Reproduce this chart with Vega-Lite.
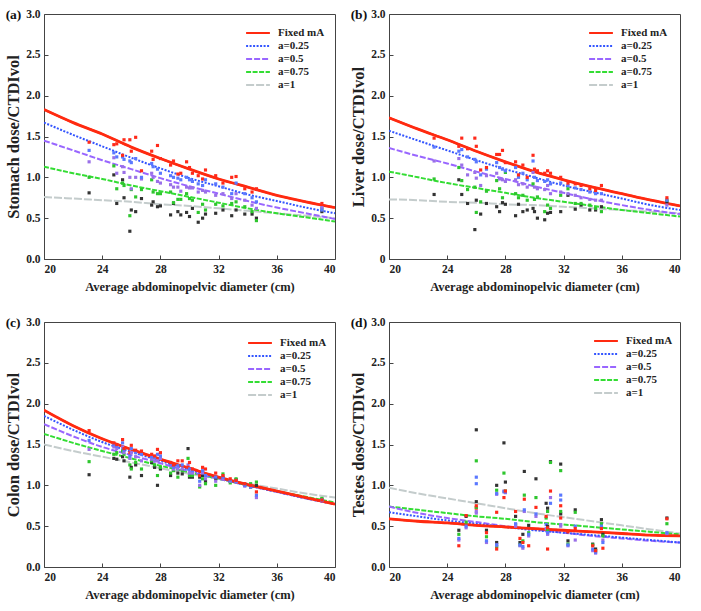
{
"$schema":"https://vega.github.io/schema/vega-lite/v6.json",
"padding":{"left":5,"top":7,"right":5,"bottom":3},
"background":"white",
"config":{
 "font":"Liberation Serif",
 "view":{"stroke":"#444","strokeWidth":1},
 "axis":{"labelFont":"Liberation Serif","labelFontWeight":"bold","labelFontSize":11.5,"labelColor":"#222","titleFont":"Liberation Serif","titleFontWeight":"bold","titleColor":"#222","grid":false,"domain":false,"ticks":true,"tickSize":-4,"tickColor":"#444"},
 "axisX":{"labelPadding":8,"titleFontSize":12.5,"titlePadding":6},
 "axisY":{"labelPadding":8,"titleFontSize":16.5,"titlePadding":4},
 "legend":{"padding":0,"symbolType":"M-1.7,0H1.7","symbolSize":196,"symbolStrokeWidth":2,"rowPadding":-4,"labelFont":"Liberation Serif","labelFontWeight":"bold","labelFontSize":11,"labelColor":"#222","labelOffset":12},
 "title":{"font":"Liberation Serif","fontSize":13.5,"fontWeight":"bold","anchor":"start","frame":"bounds","baseline":"middle","offset":-13,"color":"#111"}
},
"datasets":{
 "crv":[
  {"p":"a","x":20,"f":1.83,"q":1.67,"h":1.45,"t":1.13,"o":0.76},
  {"p":"a","x":22,"f":1.67,"q":1.52,"h":1.33,"t":1.05,"o":0.74},
  {"p":"a","x":24,"f":1.53,"q":1.38,"h":1.21,"t":0.98,"o":0.72},
  {"p":"a","x":26,"f":1.37,"q":1.24,"h":1.10,"t":0.90,"o":0.70},
  {"p":"a","x":28,"f":1.23,"q":1.11,"h":0.99,"t":0.83,"o":0.67},
  {"p":"a","x":30,"f":1.10,"q":0.99,"h":0.89,"t":0.76,"o":0.65},
  {"p":"a","x":32,"f":0.98,"q":0.89,"h":0.80,"t":0.69,"o":0.62},
  {"p":"a","x":34,"f":0.88,"q":0.79,"h":0.71,"t":0.62,"o":0.59},
  {"p":"a","x":36,"f":0.78,"q":0.71,"h":0.63,"t":0.56,"o":0.56},
  {"p":"a","x":38,"f":0.70,"q":0.63,"h":0.56,"t":0.51,"o":0.53},
  {"p":"a","x":40,"f":0.63,"q":0.56,"h":0.49,"t":0.46,"o":0.50},
  {"p":"b","x":20,"f":1.73,"q":1.57,"h":1.36,"t":1.07,"o":0.73},
  {"p":"b","x":22,"f":1.59,"q":1.45,"h":1.26,"t":1.00,"o":0.72},
  {"p":"b","x":24,"f":1.46,"q":1.33,"h":1.17,"t":0.93,"o":0.70},
  {"p":"b","x":26,"f":1.32,"q":1.21,"h":1.07,"t":0.87,"o":0.69},
  {"p":"b","x":28,"f":1.19,"q":1.10,"h":0.98,"t":0.81,"o":0.67},
  {"p":"b","x":30,"f":1.07,"q":1.00,"h":0.89,"t":0.75,"o":0.66},
  {"p":"b","x":32,"f":0.97,"q":0.90,"h":0.81,"t":0.70,"o":0.64},
  {"p":"b","x":34,"f":0.88,"q":0.82,"h":0.73,"t":0.65,"o":0.62},
  {"p":"b","x":36,"f":0.80,"q":0.74,"h":0.66,"t":0.60,"o":0.60},
  {"p":"b","x":38,"f":0.72,"q":0.66,"h":0.60,"t":0.56,"o":0.58},
  {"p":"b","x":40,"f":0.65,"q":0.60,"h":0.55,"t":0.52,"o":0.56},
  {"p":"c","x":20,"f":1.92,"q":1.85,"h":1.75,"t":1.63,"o":1.50},
  {"p":"c","x":22,"f":1.73,"q":1.68,"h":1.60,"t":1.52,"o":1.42},
  {"p":"c","x":24,"f":1.57,"q":1.53,"h":1.47,"t":1.42,"o":1.35},
  {"p":"c","x":26,"f":1.44,"q":1.41,"h":1.37,"t":1.33,"o":1.28},
  {"p":"c","x":28,"f":1.32,"q":1.30,"h":1.27,"t":1.24,"o":1.21},
  {"p":"c","x":30,"f":1.21,"q":1.19,"h":1.17,"t":1.16,"o":1.14},
  {"p":"c","x":32,"f":1.10,"q":1.09,"h":1.08,"t":1.08,"o":1.08},
  {"p":"c","x":34,"f":1.01,"q":1.00,"h":1.00,"t":1.00,"o":1.02},
  {"p":"c","x":36,"f":0.93,"q":0.92,"h":0.92,"t":0.93,"o":0.96},
  {"p":"c","x":38,"f":0.85,"q":0.84,"h":0.84,"t":0.86,"o":0.90},
  {"p":"c","x":40,"f":0.77,"q":0.77,"h":0.77,"t":0.79,"o":0.85},
  {"p":"d","x":20,"f":0.59,"q":0.67,"h":0.74,"t":0.74,"o":0.97},
  {"p":"d","x":22,"f":0.56,"q":0.62,"h":0.66,"t":0.70,"o":0.90},
  {"p":"d","x":24,"f":0.54,"q":0.57,"h":0.60,"t":0.66,"o":0.84},
  {"p":"d","x":26,"f":0.51,"q":0.53,"h":0.55,"t":0.62,"o":0.78},
  {"p":"d","x":28,"f":0.49,"q":0.49,"h":0.50,"t":0.59,"o":0.72},
  {"p":"d","x":30,"f":0.47,"q":0.45,"h":0.46,"t":0.55,"o":0.66},
  {"p":"d","x":32,"f":0.45,"q":0.42,"h":0.42,"t":0.52,"o":0.61},
  {"p":"d","x":34,"f":0.43,"q":0.39,"h":0.38,"t":0.49,"o":0.56},
  {"p":"d","x":36,"f":0.41,"q":0.36,"h":0.35,"t":0.46,"o":0.51},
  {"p":"d","x":38,"f":0.39,"q":0.33,"h":0.32,"t":0.43,"o":0.46},
  {"p":"d","x":40,"f":0.38,"q":0.30,"h":0.30,"t":0.40,"o":0.41}
 ],
 "pts":[
  {"p":"a","x":23.1,"f":1.43,"q":1.33,"h":1.19,"t":1.0,"o":0.81},
  {"p":"a","x":24.8,"f":1.40,"q":1.30,"h":1.24,"t":1.14,"o":1.03},
  {"p":"a","x":25.0,"f":1.41,"q":1.25,"h":1.05,"t":0.86,"o":0.68},
  {"p":"a","x":25.4,"f":1.27,"q":1.25,"h":1.13,"t":0.93,"o":0.97},
  {"p":"a","x":25.5,"f":1.46,"q":1.22,"h":1.06,"t":0.90,"o":0.75},
  {"p":"a","x":25.9,"f":1.46,"q":1.20,"h":1.00,"t":0.53,"o":0.34},
  {"p":"a","x":26.0,"f":1.32,"q":1.18,"h":0.86,"t":0.85,"o":0.60},
  {"p":"a","x":26.3,"f":1.49,"q":1.23,"h":1.00,"t":0.76,"o":0.58},
  {"p":"a","x":26.7,"f":1.08,"q":1.00,"h":0.98,"t":0.85,"o":0.74},
  {"p":"a","x":27.4,"f":1.32,"q":1.17,"h":1.05,"t":0.97,"o":0.66},
  {"p":"a","x":27.5,"f":1.22,"q":1.13,"h":1.00,"t":0.82,"o":0.70},
  {"p":"a","x":27.8,"f":1.39,"q":1.10,"h":0.95,"t":0.80,"o":0.64},
  {"p":"a","x":28.0,"f":1.23,"q":1.05,"h":0.93,"t":0.80,"o":0.65},
  {"p":"a","x":28.7,"f":1.15,"q":1.02,"h":0.91,"t":0.82,"o":0.54},
  {"p":"a","x":28.9,"f":1.20,"q":1.00,"h":0.88,"t":0.69,"o":0.68},
  {"p":"a","x":29.2,"f":1.04,"q":0.99,"h":0.88,"t":0.73,"o":0.58},
  {"p":"a","x":29.4,"f":1.05,"q":0.97,"h":0.83,"t":0.73,"o":0.54},
  {"p":"a","x":29.8,"f":1.19,"q":1.00,"h":0.88,"t":0.80,"o":0.57},
  {"p":"a","x":30.0,"f":1.12,"q":0.97,"h":0.87,"t":0.74,"o":0.52},
  {"p":"a","x":30.2,"f":1.05,"q":0.95,"h":0.87,"t":0.72,"o":0.62},
  {"p":"a","x":30.6,"f":1.02,"q":0.92,"h":0.82,"t":0.57,"o":0.45},
  {"p":"a","x":30.9,"f":0.98,"q":0.90,"h":0.84,"t":0.67,"o":0.50},
  {"p":"a","x":31.1,"f":1.09,"q":0.97,"h":0.82,"t":0.60,"o":0.55},
  {"p":"a","x":31.8,"f":1.02,"q":0.92,"h":0.78,"t":0.67,"o":0.56},
  {"p":"a","x":32.3,"f":0.93,"q":0.88,"h":0.80,"t":0.65,"o":0.60},
  {"p":"a","x":32.9,"f":1.00,"q":0.80,"h":0.74,"t":0.68,"o":0.53},
  {"p":"a","x":33.2,"f":1.01,"q":0.93,"h":0.80,"t":0.70,"o":0.60},
  {"p":"a","x":33.8,"f":0.86,"q":0.80,"h":0.72,"t":0.64,"o":0.55},
  {"p":"a","x":34.3,"f":0.82,"q":0.75,"h":0.66,"t":0.58,"o":0.55},
  {"p":"a","x":34.6,"f":0.86,"q":0.70,"h":0.62,"t":0.47,"o":0.50},
  {"p":"a","x":39.1,"f":0.68,"q":0.60,"h":0.63,"t":0.62,"o":0.58},
  {"p":"b","x":23.1,"f":1.48,"q":1.37,"h":1.20,"t":0.98,"o":0.79},
  {"p":"b","x":24.8,"f":1.38,"q":1.32,"h":1.23,"t":1.12,"o":0.97},
  {"p":"b","x":25.0,"f":1.48,"q":1.34,"h":1.15,"t":0.96,"o":0.79},
  {"p":"b","x":25.4,"f":1.35,"q":1.25,"h":1.03,"t":0.85,"o":0.68},
  {"p":"b","x":25.9,"f":1.48,"q":1.22,"h":1.06,"t":0.88,"o":0.36},
  {"p":"b","x":26.0,"f":1.38,"q":1.19,"h":0.99,"t":0.57,"o":0.72},
  {"p":"b","x":26.3,"f":1.09,"q":1.03,"h":0.90,"t":0.70,"o":0.55},
  {"p":"b","x":26.7,"f":1.12,"q":1.10,"h":1.02,"t":0.83,"o":0.68},
  {"p":"b","x":27.4,"f":1.28,"q":1.18,"h":1.05,"t":0.96,"o":0.64},
  {"p":"b","x":27.6,"f":1.28,"q":1.12,"h":0.98,"t":0.86,"o":0.58},
  {"p":"b","x":27.8,"f":1.33,"q":1.10,"h":0.97,"t":0.75,"o":0.69},
  {"p":"b","x":28.0,"f":1.18,"q":1.08,"h":0.95,"t":1.06,"o":0.67},
  {"p":"b","x":28.7,"f":1.19,"q":1.12,"h":0.97,"t":0.80,"o":0.53},
  {"p":"b","x":28.9,"f":1.03,"q":1.00,"h":0.91,"t":0.75,"o":0.67},
  {"p":"b","x":29.2,"f":1.15,"q":1.05,"h":0.92,"t":0.78,"o":0.58},
  {"p":"b","x":29.5,"f":1.00,"q":0.97,"h":0.88,"t":0.72,"o":0.60},
  {"p":"b","x":29.9,"f":1.27,"q":1.20,"h":1.06,"t":0.92,"o":0.62},
  {"p":"b","x":30.0,"f":1.10,"q":1.00,"h":0.88,"t":0.73,"o":0.58},
  {"p":"b","x":30.2,"f":1.08,"q":0.96,"h":0.86,"t":0.76,"o":0.50},
  {"p":"b","x":30.7,"f":1.05,"q":0.95,"h":0.85,"t":0.58,"o":0.48},
  {"p":"b","x":30.9,"f":1.08,"q":0.97,"h":0.90,"t":0.66,"o":0.56},
  {"p":"b","x":31.1,"f":1.05,"q":0.92,"h":0.80,"t":0.62,"o":0.57},
  {"p":"b","x":31.8,"f":1.00,"q":0.93,"h":0.82,"t":0.78,"o":0.58},
  {"p":"b","x":32.3,"f":0.93,"q":0.90,"h":0.80,"t":0.86,"o":0.78},
  {"p":"b","x":32.8,"f":0.92,"q":0.87,"h":0.78,"t":0.68,"o":0.61},
  {"p":"b","x":33.2,"f":0.90,"q":0.85,"h":0.75,"t":0.68,"o":0.66},
  {"p":"b","x":33.8,"f":0.86,"q":0.82,"h":0.73,"t":0.66,"o":0.60},
  {"p":"b","x":34.2,"f":0.84,"q":0.80,"h":0.72,"t":0.62,"o":0.60},
  {"p":"b","x":34.6,"f":0.90,"q":0.80,"h":0.72,"t":0.58,"o":0.64},
  {"p":"b","x":39.1,"f":0.75,"q":0.72,"h":0.66,"t":0.72,"o":0.70},
  {"p":"c","x":23.1,"f":1.67,"q":1.55,"h":1.44,"t":1.29,"o":1.13},
  {"p":"c","x":24.8,"f":1.52,"q":1.50,"h":1.47,"t":1.38,"o":1.33},
  {"p":"c","x":25.0,"f":1.50,"q":1.48,"h":1.45,"t":1.40,"o":1.32},
  {"p":"c","x":25.4,"f":1.56,"q":1.52,"h":1.47,"t":1.42,"o":1.35},
  {"p":"c","x":25.5,"f":1.45,"q":1.43,"h":1.40,"t":1.38,"o":1.30},
  {"p":"c","x":25.9,"f":1.40,"q":1.36,"h":1.33,"t":1.25,"o":1.10},
  {"p":"c","x":26.0,"f":1.49,"q":1.45,"h":1.40,"t":1.20,"o":1.22},
  {"p":"c","x":26.3,"f":1.43,"q":1.40,"h":1.35,"t":1.28,"o":1.25},
  {"p":"c","x":26.7,"f":1.42,"q":1.38,"h":1.30,"t":1.20,"o":1.12},
  {"p":"c","x":27.4,"f":1.38,"q":1.35,"h":1.32,"t":1.30,"o":1.28},
  {"p":"c","x":27.6,"f":1.36,"q":1.34,"h":1.30,"t":1.25,"o":1.22},
  {"p":"c","x":27.8,"f":1.44,"q":1.38,"h":1.30,"t":1.12,"o":1.00},
  {"p":"c","x":28.0,"f":1.40,"q":1.36,"h":1.33,"t":1.22,"o":1.20},
  {"p":"c","x":28.7,"f":1.28,"q":1.26,"h":1.24,"t":1.15,"o":1.12},
  {"p":"c","x":28.9,"f":1.25,"q":1.22,"h":1.20,"t":1.18,"o":1.22},
  {"p":"c","x":29.2,"f":1.30,"q":1.24,"h":1.20,"t":1.10,"o":1.15},
  {"p":"c","x":29.5,"f":1.30,"q":1.25,"h":1.20,"t":1.18,"o":1.14},
  {"p":"c","x":29.9,"f":1.22,"q":1.20,"h":1.25,"t":1.33,"o":1.45},
  {"p":"c","x":30.0,"f":1.28,"q":1.20,"h":1.15,"t":1.12,"o":1.10},
  {"p":"c","x":30.2,"f":1.20,"q":1.18,"h":1.15,"t":1.12,"o":1.10},
  {"p":"c","x":30.7,"f":1.12,"q":1.05,"h":1.00,"t":0.98,"o":1.10},
  {"p":"c","x":30.9,"f":1.22,"q":1.18,"h":1.15,"t":1.08,"o":1.12},
  {"p":"c","x":31.1,"f":1.20,"q":1.12,"h":1.08,"t":1.02,"o":1.05},
  {"p":"c","x":31.8,"f":1.15,"q":1.10,"h":1.05,"t":1.00,"o":1.08},
  {"p":"c","x":32.3,"f":1.12,"q":1.10,"h":1.08,"t":1.14,"o":1.10},
  {"p":"c","x":32.8,"f":1.08,"q":1.06,"h":1.05,"t":1.03,"o":1.05},
  {"p":"c","x":33.2,"f":1.06,"q":1.05,"h":1.04,"t":1.08,"o":1.07},
  {"p":"c","x":33.8,"f":1.02,"q":1.00,"h":0.99,"t":1.00,"o":1.01},
  {"p":"c","x":34.2,"f":1.00,"q":0.98,"h":0.99,"t":1.02,"o":0.98},
  {"p":"c","x":34.6,"f":0.92,"q":0.88,"h":0.85,"t":1.04,"o":1.00},
  {"p":"c","x":39.1,"f":0.82,"q":0.82,"h":0.81,"t":0.84,"o":0.83},
  {"p":"d","x":24.8,"f":0.26,"q":0.35,"h":0.33,"t":0.40,"o":0.45},
  {"p":"d","x":25.3,"f":0.63,"q":0.50,"h":0.48,"t":0.55,"o":0.62},
  {"p":"d","x":26.0,"f":0.72,"q":1.10,"h":0.66,"t":1.30,"o":1.68},
  {"p":"d","x":26.0,"f":0.75,"q":1.02,"h":0.68,"t":0.73,"o":0.80},
  {"p":"d","x":26.7,"f":0.42,"q":0.32,"h":0.30,"t":0.37,"o":0.45},
  {"p":"d","x":27.4,"f":0.22,"q":0.27,"h":0.27,"t":0.25,"o":0.30},
  {"p":"d","x":27.4,"f":0.67,"q":0.90,"h":0.89,"t":0.94,"o":1.00},
  {"p":"d","x":27.9,"f":0.85,"q":0.92,"h":0.93,"t":1.15,"o":1.52},
  {"p":"d","x":28.0,"f":0.93,"q":0.92,"h":0.91,"t":0.93,"o":1.04},
  {"p":"d","x":28.7,"f":0.68,"q":0.53,"h":0.50,"t":0.52,"o":0.62},
  {"p":"d","x":29.0,"f":0.35,"q":0.27,"h":0.26,"t":0.27,"o":0.30},
  {"p":"d","x":29.2,"f":0.30,"q":0.25,"h":0.23,"t":0.32,"o":0.40},
  {"p":"d","x":29.3,"f":0.83,"q":0.70,"h":0.68,"t":0.88,"o":1.17},
  {"p":"d","x":29.6,"f":0.26,"q":0.40,"h":0.38,"t":0.42,"o":0.51},
  {"p":"d","x":30.1,"f":0.73,"q":0.65,"h":0.62,"t":0.85,"o":1.08},
  {"p":"d","x":30.8,"f":0.62,"q":0.52,"h":0.47,"t":0.60,"o":0.78},
  {"p":"d","x":30.9,"f":0.22,"q":0.45,"h":0.40,"t":0.68,"o":0.72},
  {"p":"d","x":30.9,"f":0.48,"q":0.42,"h":0.41,"t":0.45,"o":0.50},
  {"p":"d","x":31.1,"f":0.93,"q":0.78,"h":0.85,"t":1.28,"o":1.29},
  {"p":"d","x":31.8,"f":0.75,"q":0.88,"h":0.52,"t":1.18,"o":1.26},
  {"p":"d","x":31.8,"f":0.60,"q":0.82,"h":0.50,"t":0.68,"o":0.65},
  {"p":"d","x":32.3,"f":0.43,"q":0.27,"h":0.26,"t":0.28,"o":0.32},
  {"p":"d","x":32.8,"f":0.47,"q":0.50,"h":0.33,"t":0.67,"o":0.70},
  {"p":"d","x":34.0,"f":0.26,"q":0.22,"h":0.20,"t":0.27,"o":0.28},
  {"p":"d","x":34.2,"f":0.20,"q":0.18,"h":0.17,"t":0.20,"o":0.22},
  {"p":"d","x":34.6,"f":0.47,"q":0.50,"h":0.48,"t":0.53,"o":0.58},
  {"p":"d","x":34.7,"f":0.23,"q":0.30,"h":0.33,"t":0.38,"o":0.40},
  {"p":"d","x":39.1,"f":0.59,"q":0.42,"h":0.41,"t":0.53,"o":0.60}
 ]
},
"columns":2,
"spacing":{"column":14,"row":21},
"resolve":{"scale":{"stroke":"independent","strokeDash":"independent","fill":"independent"},"legend":{"stroke":"independent","strokeDash":"independent"}},
"concat":[
 {"width":291,"height":245,"title":{"text":"(a)"},
  "layer":[
   {"data":{"name":"crv"},"transform":[{"filter":"datum.p=='a'"},{"fold":["o","t","h","q","f"],"as":["k","v"]}],
    "mark":{"type":"line","interpolate":"monotone","strokeWidth":2,"clip":true},
    "encoding":{
     "x":{"field":"x","type":"quantitative","scale":{"domain":[20,40],"nice":false},"axis":{"values":[20,24,28,32,36,40],"title":"Average abdominopelvic diameter (cm)"}},
     "y":{"field":"v","type":"quantitative","scale":{"domain":[0,3],"nice":false},"axis":{"values":[0,0.5,1,1.5,2,2.5,3],"format":".1f","title":"Stomach dose/CTDIvol"}},
     "stroke":{"field":"k","type":"nominal","scale":{"domain":["f","q","h","t","o"],"range":["#ff2a10","#3355ff","#9966ff","#33dd33","#c4cccc"]},
      "legend":{"orient":"none","legendX":206,"legendY":11,"title":null,"symbolType":"M-1.7,0H1.7","labelExpr":"datum.label == 'f' ? 'Fixed mA' : datum.label == 'q' ? 'a=0.25' : datum.label == 'h' ? 'a=0.5' : datum.label == 't' ? 'a=0.75' : 'a=1'"}},
     "strokeDash":{"field":"k","type":"nominal","scale":{"domain":["f","q","h","t","o"],"range":[[1,0],[2,1.5],[6,2],[5,1.5],[8,2]]}}}},
   {"data":{"name":"crv"},"transform":[{"filter":"datum.p=='a'"}],
    "mark":{"type":"line","interpolate":"monotone","strokeWidth":2.8,"color":"#ff2a10","clip":true},
    "encoding":{"x":{"field":"x","type":"quantitative"},"y":{"field":"f","type":"quantitative"}}},
   {"data":{"name":"pts"},"transform":[{"filter":"datum.p=='a'"},{"fold":["o","t","h","q","f"],"as":["k","v"]}],
    "mark":{"type":"square","size":10,"opacity":1},
    "encoding":{"x":{"field":"x","type":"quantitative"},"y":{"field":"v","type":"quantitative"},
     "fill":{"field":"k","type":"nominal","legend":null,"scale":{"domain":["f","q","h","t","o"],"range":["#ff2a1a","#5a78ff","#9a70e8","#2ec62e","#333333"]}}}}
  ]},
 {"width":291,"height":245,"title":{"text":"(b)"},
  "layer":[
   {"data":{"name":"crv"},"transform":[{"filter":"datum.p=='b'"},{"fold":["o","t","h","q","f"],"as":["k","v"]}],
    "mark":{"type":"line","interpolate":"monotone","strokeWidth":2,"clip":true},
    "encoding":{
     "x":{"field":"x","type":"quantitative","scale":{"domain":[20,40],"nice":false},"axis":{"values":[20,24,28,32,36,40],"title":"Average abdominopelvic diameter (cm)"}},
     "y":{"field":"v","type":"quantitative","scale":{"domain":[0,3],"nice":false},"axis":{"values":[0,0.5,1,1.5,2,2.5,3],"labelExpr":"datum.value == 0 ? '0' : format(datum.value, '.1f')","title":"Liver dose/CTDIvol"}},
     "stroke":{"field":"k","type":"nominal","scale":{"domain":["f","q","h","t","o"],"range":["#ff2a10","#3355ff","#9966ff","#33dd33","#c4cccc"]},
      "legend":{"orient":"none","legendX":204,"legendY":11,"title":null,"symbolType":"M-1.7,0H1.7","labelExpr":"datum.label == 'f' ? 'Fixed mA' : datum.label == 'q' ? 'a=0.25' : datum.label == 'h' ? 'a=0.5' : datum.label == 't' ? 'a=0.75' : 'a=1'"}},
     "strokeDash":{"field":"k","type":"nominal","scale":{"domain":["f","q","h","t","o"],"range":[[1,0],[2,1.5],[6,2],[5,1.5],[8,2]]}}}},
   {"data":{"name":"crv"},"transform":[{"filter":"datum.p=='b'"}],
    "mark":{"type":"line","interpolate":"monotone","strokeWidth":2.8,"color":"#ff2a10","clip":true},
    "encoding":{"x":{"field":"x","type":"quantitative"},"y":{"field":"f","type":"quantitative"}}},
   {"data":{"name":"pts"},"transform":[{"filter":"datum.p=='b'"},{"fold":["o","t","h","q","f"],"as":["k","v"]}],
    "mark":{"type":"square","size":10,"opacity":1},
    "encoding":{"x":{"field":"x","type":"quantitative"},"y":{"field":"v","type":"quantitative"},
     "fill":{"field":"k","type":"nominal","legend":null,"scale":{"domain":["f","q","h","t","o"],"range":["#ff2a1a","#5a78ff","#9a70e8","#2ec62e","#333333"]}}}}
  ]},
 {"width":291,"height":245,"title":{"text":"(c)"},
  "layer":[
   {"data":{"name":"crv"},"transform":[{"filter":"datum.p=='c'"},{"fold":["o","t","h","q","f"],"as":["k","v"]}],
    "mark":{"type":"line","interpolate":"monotone","strokeWidth":2,"clip":true},
    "encoding":{
     "x":{"field":"x","type":"quantitative","scale":{"domain":[20,40],"nice":false},"axis":{"values":[20,24,28,32,36,40],"title":"Average abdominopelvic diameter (cm)"}},
     "y":{"field":"v","type":"quantitative","scale":{"domain":[0,3],"nice":false},"axis":{"values":[0,0.5,1,1.5,2,2.5,3],"format":".1f","title":"Colon dose/CTDIvol"}},
     "stroke":{"field":"k","type":"nominal","scale":{"domain":["f","q","h","t","o"],"range":["#ff2a10","#3355ff","#9966ff","#33dd33","#c4cccc"]},
      "legend":{"orient":"none","legendX":208,"legendY":13,"title":null,"symbolType":"M-1.7,0H1.7","labelExpr":"datum.label == 'f' ? 'Fixed mA' : datum.label == 'q' ? 'a=0.25' : datum.label == 'h' ? 'a=0.5' : datum.label == 't' ? 'a=0.75' : 'a=1'"}},
     "strokeDash":{"field":"k","type":"nominal","scale":{"domain":["f","q","h","t","o"],"range":[[1,0],[2,1.5],[6,2],[5,1.5],[8,2]]}}}},
   {"data":{"name":"crv"},"transform":[{"filter":"datum.p=='c'"}],
    "mark":{"type":"line","interpolate":"monotone","strokeWidth":2.8,"color":"#ff2a10","clip":true},
    "encoding":{"x":{"field":"x","type":"quantitative"},"y":{"field":"f","type":"quantitative"}}},
   {"data":{"name":"pts"},"transform":[{"filter":"datum.p=='c'"},{"fold":["o","t","h","q","f"],"as":["k","v"]}],
    "mark":{"type":"square","size":10,"opacity":1},
    "encoding":{"x":{"field":"x","type":"quantitative"},"y":{"field":"v","type":"quantitative"},
     "fill":{"field":"k","type":"nominal","legend":null,"scale":{"domain":["f","q","h","t","o"],"range":["#ff2a1a","#5a78ff","#9a70e8","#2ec62e","#333333"]}}}}
  ]},
 {"width":291,"height":245,"title":{"text":"(d)"},
  "layer":[
   {"data":{"name":"crv"},"transform":[{"filter":"datum.p=='d'"},{"fold":["o","t","h","q","f"],"as":["k","v"]}],
    "mark":{"type":"line","interpolate":"monotone","strokeWidth":2,"clip":true},
    "encoding":{
     "x":{"field":"x","type":"quantitative","scale":{"domain":[20,40],"nice":false},"axis":{"values":[20,24,28,32,36,40],"title":"Average abdominopelvic diameter (cm)"}},
     "y":{"field":"v","type":"quantitative","scale":{"domain":[0,3],"nice":false},"axis":{"values":[0,0.5,1,1.5,2,2.5,3],"format":".1f","title":"Testes dose/CTDIvol"}},
     "stroke":{"field":"k","type":"nominal","scale":{"domain":["f","q","h","t","o"],"range":["#ff2a10","#3355ff","#9966ff","#33dd33","#c4cccc"]},
      "legend":{"orient":"none","legendX":209,"legendY":11,"title":null,"symbolType":"M-1.7,0H1.7","labelExpr":"datum.label == 'f' ? 'Fixed mA' : datum.label == 'q' ? 'a=0.25' : datum.label == 'h' ? 'a=0.5' : datum.label == 't' ? 'a=0.75' : 'a=1'"}},
     "strokeDash":{"field":"k","type":"nominal","scale":{"domain":["f","q","h","t","o"],"range":[[1,0],[2,1.5],[6,2],[5,1.5],[8,2]]}}}},
   {"data":{"name":"crv"},"transform":[{"filter":"datum.p=='d'"}],
    "mark":{"type":"line","interpolate":"monotone","strokeWidth":2.8,"color":"#ff2a10","clip":true},
    "encoding":{"x":{"field":"x","type":"quantitative"},"y":{"field":"f","type":"quantitative"}}},
   {"data":{"name":"pts"},"transform":[{"filter":"datum.p=='d'"},{"fold":["o","t","h","q","f"],"as":["k","v"]}],
    "mark":{"type":"square","size":10,"opacity":1},
    "encoding":{"x":{"field":"x","type":"quantitative"},"y":{"field":"v","type":"quantitative"},
     "fill":{"field":"k","type":"nominal","legend":null,"scale":{"domain":["f","q","h","t","o"],"range":["#ff2a1a","#5a78ff","#9a70e8","#2ec62e","#333333"]}}}}
  ]}
]
}
